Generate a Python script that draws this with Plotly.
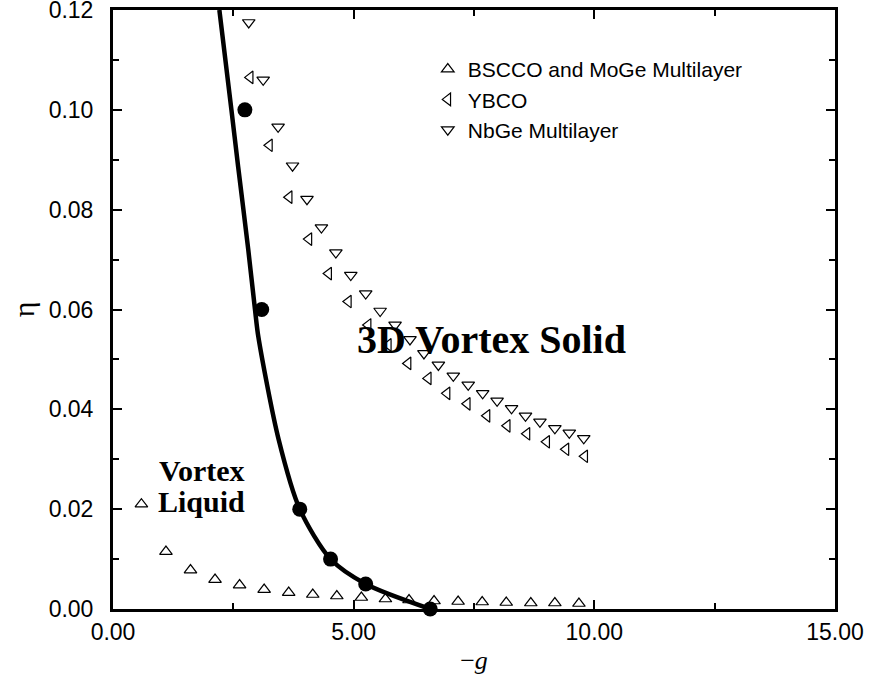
import plotly.graph_objects as go

# BSCCO and MoGe Multilayer (open up-triangles)
bscco_x = [0.59, 1.10, 1.61, 2.12, 2.63, 3.14, 3.65, 4.15, 4.65, 5.16, 5.66, 6.15, 6.67, 7.17, 7.67, 8.17, 8.68, 9.18, 9.68]
bscco_y = [0.0210, 0.0115, 0.0078, 0.0059, 0.0048, 0.0039, 0.0033, 0.0029, 0.0026, 0.0023, 0.0020, 0.0018, 0.0016, 0.0015, 0.0014, 0.0013, 0.0012, 0.0012, 0.0011]

# YBCO (open left-triangles)
ybco_x = [2.85, 3.25, 3.66, 4.07, 4.48, 4.89, 5.30, 5.72, 6.13, 6.55, 6.94, 7.36, 7.77, 8.19, 8.60, 9.01, 9.41, 9.80]
ybco_y = [0.1065, 0.0929, 0.0825, 0.0741, 0.0672, 0.0616, 0.0569, 0.0529, 0.0492, 0.0462, 0.0432, 0.0411, 0.0387, 0.0367, 0.0351, 0.0335, 0.0320, 0.0306]

# NbGe Multilayer (open down-triangles)
nbge_x = [2.82, 3.12, 3.43, 3.73, 4.03, 4.33, 4.63, 4.94, 5.25, 5.55, 5.86, 6.17, 6.46, 6.76, 7.07, 7.38, 7.68, 7.98, 8.28, 8.57, 8.87, 9.18, 9.48, 9.78]
nbge_y = [0.1175, 0.1060, 0.0966, 0.0888, 0.0821, 0.0764, 0.0714, 0.0669, 0.0632, 0.0597, 0.0569, 0.0540, 0.0512, 0.0489, 0.0467, 0.0449, 0.0432, 0.0417, 0.0402, 0.0387, 0.0375, 0.0362, 0.0353, 0.0342]

# Filled circles (simulation points)
dots_x = [2.74, 3.09, 3.88, 4.52, 5.25, 6.59]
dots_y = [0.100, 0.060, 0.020, 0.010, 0.005, 0.000]

# Melting line
line_x = [2.21, 2.46, 2.60, 2.81, 2.95, 3.02, 3.44, 3.88, 4.52, 5.25, 6.59]
line_y = [0.120, 0.100, 0.0886, 0.072, 0.060, 0.0545, 0.034, 0.020, 0.010, 0.005, 0.000]

x_ticks = [0, 5, 10, 15]
y_ticks = [0.00, 0.02, 0.04, 0.06, 0.08, 0.10, 0.12]

SANS = "Liberation Sans, Arial, sans-serif"
SERIF = "Liberation Serif, Times New Roman, serif"

fig = go.Figure()

fig.add_trace(go.Scatter(x=line_x, y=line_y, mode="lines",
                         line=dict(color="black", width=4.5, shape="spline", smoothing=0.8),
                         showlegend=False, hoverinfo="skip"))
fig.add_trace(go.Scatter(x=dots_x, y=dots_y, mode="markers", marker=dict(symbol="circle", size=15, color="black"),
                         showlegend=False, cliponaxis=False))

tri = dict(size=11, color="black", line=dict(color="black", width=1.2))
fig.add_trace(go.Scatter(x=bscco_x, y=bscco_y, mode="markers", name="BSCCO and MoGe Multilayer",
                         marker=dict(symbol="triangle-up-open", **tri), cliponaxis=False))
fig.add_trace(go.Scatter(x=ybco_x, y=ybco_y, mode="markers", name="YBCO",
                         marker=dict(symbol="triangle-left-open", **tri)))
fig.add_trace(go.Scatter(x=nbge_x, y=nbge_y, mode="markers", name="NbGe Multilayer",
                         marker=dict(symbol="triangle-down-open", **tri)))

fig.add_annotation(x=7.87, y=0.054, text="<b>3D Vortex Solid</b>", showarrow=False,
                   font=dict(family=SERIF, size=40, color="black"))
fig.add_annotation(x=1.85, y=0.0278, text="<b>Vortex</b>", showarrow=False,
                   font=dict(family=SERIF, size=30, color="black"))
fig.add_annotation(x=1.83, y=0.0215, text="<b>Liquid</b>", showarrow=False,
                   font=dict(family=SERIF, size=30, color="black"))

axis_common = dict(showline=True, linewidth=3, linecolor="black", mirror="allticks", ticks="inside",
                   ticklen=9, tickwidth=2, tickcolor="black", showgrid=False, zeroline=False,
                   automargin=False, ticklabeloverflow="allow",
                   tickfont=dict(family=SANS, size=23, color="black"))

fig.update_xaxes(range=[0, 15], tickvals=x_ticks, tickformat=".2f",
                 minor=dict(ticks="inside", ticklen=6, tickwidth=2, tickcolor="black", dtick=2.5, showgrid=False),
                 title=dict(text="\u2212<i>g</i>", font=dict(family=SERIF, size=26, color="black"), standoff=8),
                 ticklabelstandoff=0, **axis_common)
fig.update_yaxes(range=[0, 0.12], tickvals=y_ticks, tickformat=".2f",
                 minor=dict(ticks="inside", ticklen=6, tickwidth=2, tickcolor="black", dtick=0.01, showgrid=False),
                 title=dict(text="\u03b7", font=dict(family=SERIF, size=30, color="black"), standoff=6),
                 ticklabelstandoff=12, **axis_common)

fig.update_layout(
    width=869, height=685,
    margin=dict(l=113, r=34, t=10, b=76),
    plot_bgcolor="white", paper_bgcolor="white",
    legend=dict(x=0.436, y=0.935, xanchor="left", yanchor="top", bgcolor="rgba(0,0,0,0)",
                font=dict(family=SANS, size=21, color="black"), itemsizing="trace",
                tracegroupgap=0),
)

# remove the default 8px page margin so the figure fills the window exactly
fig.write_html("out.html", config={"displayModeBar": False},
               post_script="document.body.style.margin='0';")
